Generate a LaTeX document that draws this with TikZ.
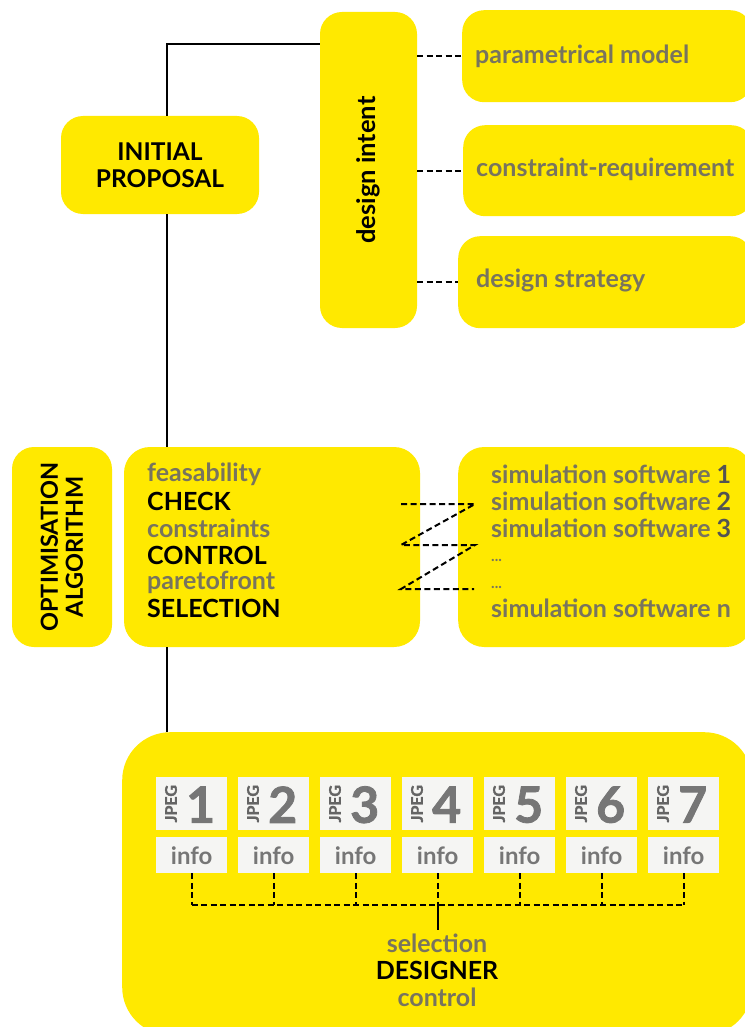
\documentclass[tikz,border=0pt]{standalone}
\usepackage{fontspec}
\setmainfont{Lato}
\newfontfamily\heavyfont[BoldFeatures={FakeBold=1.6}]{Lato}
\usetikzlibrary{calc}
\definecolor{yel}{RGB}{255,233,0}
\definecolor{txtgray}{RGB}{120,116,94}
\definecolor{numgray}{RGB}{118,118,118}
\definecolor{tilewhite}{RGB}{245,245,243}
\tikzset{
  ybox/.style={fill=yel, draw=none, rounded corners=22pt, inner sep=0pt},
  tile/.style={fill=tilewhite, draw=none, inner sep=0pt},
  lbl/.style={font=\bfseries\fontsize{25}{28}\selectfont, text=txtgray, inner sep=0pt},
  blbl/.style={font=\bfseries\fontsize{25}{28}\selectfont, text=black, inner sep=0pt},
  link/.style={line width=2pt, black},
  dlink/.style={line width=2pt, black, dash pattern=on 6pt off 3.5pt},
}
\begin{document}
\begin{tikzpicture}[x=1pt, y=-1pt]
\useasboundingbox[fill=white] (0,0) rectangle (744,1027);

% --- design intent column and its three aspects
\node[ybox, minimum width=97pt, minimum height=316pt] (di) at (368.5,170) {};
\node[blbl, rotate=90, font=\bfseries\fontsize{25.5}{28}\selectfont] (ditxt) at (di.center) {design intent};

\node[ybox, minimum width=290pt, minimum height=92pt, anchor=north west] (pm) at (462,10) {};
\node[ybox, minimum width=290pt, minimum height=91pt, anchor=north west] (cr) at (463,125) {};
\node[ybox, minimum width=294pt, minimum height=92pt, anchor=north west] (ds) at (458,236) {};
\node[lbl, anchor=west] (pmtxt) at (475,56) {parametrical model};
\node[lbl, anchor=west] (crtxt) at (476,169) {constraint-requirement};
\node[lbl, anchor=west] (dstxt) at (476,280) {design strategy};

\draw[dlink] (di.east |- pm.west) -- (pm.west);
\draw[dlink] (di.east |- cr.west) -- (cr.west);
\draw[dlink] (di.east |- ds.west) -- (ds.west);

% --- initial proposal
\node[ybox, minimum width=198pt, minimum height=98pt] (ip) at (160,165) {};
\node[blbl, align=center, font=\bfseries\fontsize{24.5}{27}\selectfont] (iptxt) at (ip.center) {INITIAL\\PROPOSAL};

% --- optimisation row
\node[ybox, minimum width=100pt, minimum height=200pt] (opt) at (62,547) {};
\node[blbl, rotate=90, align=center, font=\bfseries\fontsize{23.5}{25}\selectfont] (opttxt) at (opt.center) {OPTIMISATION\\ALGORITHM};

\node[ybox, rounded corners=26pt, minimum width=296pt, minimum height=200pt] (chk) at (272,547) {};
\node[ybox, rounded corners=26pt, minimum width=294pt, minimum height=200pt, anchor=west] (sim) at (458,547) {};

\node[lbl,  anchor=west] (c1) at (147,474) {feasability};
\node[blbl, anchor=west] (c2) at (147,501) {CHECK};
\node[lbl,  anchor=west] (c3) at (147,528) {constraints};
\node[blbl, anchor=west] (c4) at (147,555) {CONTROL};
\node[lbl,  anchor=west] (c5) at (147,582) {paretofront};
\node[blbl, anchor=west] (c6) at (147,608) {SELECTION};

\node[lbl, anchor=west] (s1) at (491,474) {simulation software \textcolor{numgray!70!black}{1}};
\node[lbl, anchor=west] (s2) at (491,501) {simulation software \textcolor{numgray!70!black}{2}};
\node[lbl, anchor=west] (s3) at (491,528) {simulation software \textcolor{numgray!70!black}{3}};
\node[lbl, anchor=west, font=\bfseries\fontsize{15}{16}\selectfont] (s4) at (491,560) {...};
\node[lbl, anchor=west, font=\bfseries\fontsize{15}{16}\selectfont] (s5) at (491,587) {...};
\node[lbl, anchor=west] (s6) at (491,608) {simulation software n};

% zig-zag link between the checks and the simulation tools
\coordinate (z1) at (401,504);
\coordinate (z2) at (475,504);
\coordinate (z3) at (401,545);
\coordinate (z4) at (475,545);
\coordinate (z5) at (401,589);
\coordinate (z6) at (474,589);
\draw[dlink] (z1) -- (z2) -- (z3) -- (z4) -- (z5) -- (z6);

% --- designer selection
\node[ybox, rounded corners=48pt, minimum width=630pt, minimum height=303pt, anchor=north west] (des) at (122,732) {};

\foreach \i in {1,...,7}{
  \pgfmathsetmacro{\xl}{156+82*(\i-1)}
  \node[tile, minimum width=71pt, minimum height=53pt, anchor=north west] (jp\i) at (\xl,777) {};
  \node[tile, minimum width=71pt, minimum height=36pt, anchor=north west] (inf\i) at (\xl,837) {};
  \node[rotate=90, text=numgray!85!black, font=\heavyfont\bfseries\fontsize{16}{16}\selectfont, inner sep=0pt] (jl\i) at ($(jp\i.west)+(15,0)$) {JPEG};
  \node[text=numgray, font=\heavyfont\bfseries\fontsize{50}{50}\selectfont, inner sep=0pt] (jn\i) at ($(jp\i.center)+(9,1)$) {\i};
  \node[text=numgray, font=\bfseries\fontsize{24}{26}\selectfont, inner sep=0pt] (it\i) at (inf\i.center) {info};
  \coordinate (b\i) at (inf\i.south |- 0,905);
  \draw[dlink] (inf\i.south) -- (b\i);
}
\draw[dlink] (b1) -- (b7);
\coordinate (sel) at (b4 |- 0,930);
\draw[link] (b4) -- (sel);

\node[lbl]  (t1) at (437,943) {selection};
\node[blbl] (t2) at (437,970) {DESIGNER};
\node[lbl]  (t3) at (437,997) {control};

% --- main process spine
\draw[link] ([yshift=-32pt]di.north west) -| ([xshift=7pt]ip.north);
\draw[link] ([xshift=7pt]ip.south) -- ([xshift=7pt]ip.south |- chk.north);
\draw[link] ([xshift=7pt]ip.south |- chk.south) -- ([xshift=7pt]ip.south |- des.north);
\end{tikzpicture}
\end{document}
